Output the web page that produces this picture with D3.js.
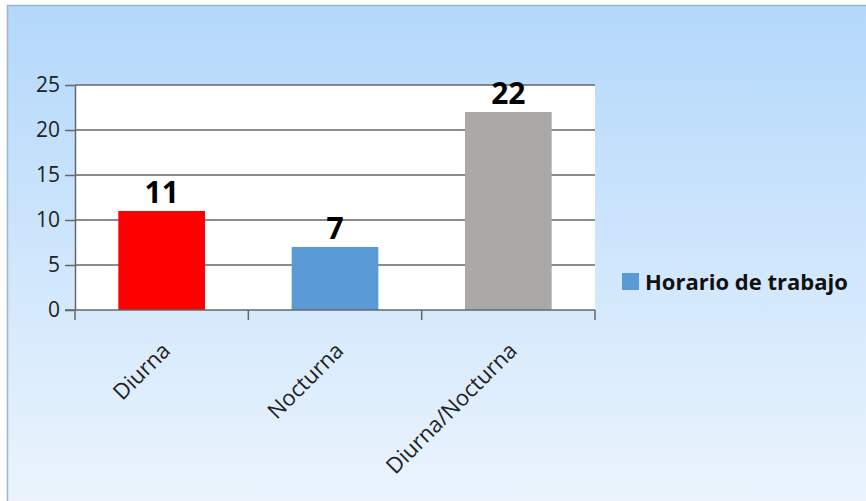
<!DOCTYPE html>
<html>
<head>
<meta charset="utf-8">
<script src="https://cdn.jsdelivr.net/npm/d3@7"></script>
<style>
  html, body { margin: 0; padding: 0; background: #fff; }
  svg { display: block; }
</style>
</head>
<body>
<div id="chart"></div>
<script>
const categories = ["Diurna", "Nocturna", "Diurna/Nocturna"];
const values = [11, 7, 22];
const barColors = ["#ff0000", "#5b9bd5", "#aaa9a8"];
const yTicks = [0, 5, 10, 15, 20, 25];
const legendLabel = "Horario de trabajo";
const legendColor = "#5b9bd5";

const W = 866, H = 501;
const plot = {left: 75, top: 85, right: 595, bottom: 310};

const svg = d3.select("#chart").append("svg")
    .attr("width", W)
    .attr("height", H);

// background gradient panel
const grad = svg.append("defs").append("linearGradient")
    .attr("id", "bg").attr("x1", 0).attr("y1", 0).attr("x2", 0).attr("y2", 1);
grad.append("stop").attr("offset", "0%").attr("stop-color", "#b3d8fb");
grad.append("stop").attr("offset", "100%").attr("stop-color", "#ebf4fd");

svg.append("rect")
    .attr("x", 7).attr("y", 5)
    .attr("width", W - 7).attr("height", H - 5)
    .attr("fill", "url(#bg)");
svg.append("path")
    .attr("d", `M7.5,${H} V5.5 H${W}`)
    .attr("fill", "none")
    .attr("stroke", "#9fb3c6")
    .attr("stroke-width", 1.5);

const x = d3.scaleBand()
    .domain(categories)
    .range([plot.left, plot.right])
    .paddingInner(0.5)
    .paddingOuter(0.25);

const y = d3.scaleLinear()
    .domain([0, 25])
    .range([plot.bottom, plot.top]);

// white plot area
svg.append("rect")
    .attr("x", plot.left).attr("y", plot.top)
    .attr("width", plot.right - plot.left)
    .attr("height", plot.bottom - plot.top)
    .attr("fill", "#fff");

// gridlines + y axis
const yAxis = svg.append("g")
    .attr("transform", `translate(${plot.left},0)`)
    .call(d3.axisLeft(y).tickValues(yTicks).tickSize(10).tickPadding(5).tickSizeOuter(0));
yAxis.select(".domain").attr("stroke", "#666").attr("stroke-width", 1.5);
yAxis.selectAll(".tick line").attr("stroke", "#666").attr("stroke-width", 1.5);
yAxis.selectAll(".tick text")
    .attr("font-family", "'Open Sans', sans-serif")
    .attr("font-size", 21)
    .attr("fill", "#222");

svg.append("g")
    .selectAll("line")
    .data(yTicks.filter(d => d > 0))
    .join("line")
    .attr("x1", plot.left).attr("x2", plot.right)
    .attr("y1", d => y(d)).attr("y2", d => y(d))
    .attr("stroke", "#666").attr("stroke-width", 1.5);

// bars
svg.append("g")
    .selectAll("rect")
    .data(values)
    .join("rect")
    .attr("x", (d, i) => x(categories[i]))
    .attr("y", d => y(d))
    .attr("width", x.bandwidth())
    .attr("height", d => y(0) - y(d))
    .attr("fill", (d, i) => barColors[i]);

// data labels
svg.append("g")
    .selectAll("text")
    .data(values)
    .join("text")
    .attr("x", (d, i) => x(categories[i]) + x.bandwidth() / 2)
    .attr("y", d => y(d) - 8)
    .attr("text-anchor", "middle")
    .attr("font-family", "'Open Sans', sans-serif")
    .attr("font-weight", "bold")
    .attr("font-size", 30)
    .attr("fill", "#000")
    .text(d => d);

// x axis with boundary ticks
const step = (plot.right - plot.left) / categories.length;
const xAxisG = svg.append("g");
xAxisG.append("line")
    .attr("x1", plot.left - 10).attr("x2", plot.right)
    .attr("y1", plot.bottom).attr("y2", plot.bottom)
    .attr("stroke", "#666").attr("stroke-width", 1.5);
xAxisG.selectAll("line.bt")
    .data(d3.range(categories.length + 1))
    .join("line")
    .attr("class", "bt")
    .attr("x1", i => plot.left + i * step).attr("x2", i => plot.left + i * step)
    .attr("y1", plot.bottom).attr("y2", plot.bottom + 10)
    .attr("stroke", "#666").attr("stroke-width", 1.5);
xAxisG.selectAll("text")
    .data(categories)
    .join("text")
    .attr("transform", d => `translate(${x(d) + x.bandwidth() / 2 + 10},${plot.bottom + 42}) rotate(-45)`)
    .attr("text-anchor", "end")
    .attr("font-family", "'Open Sans', sans-serif")
    .attr("font-size", 22)
    .attr("fill", "#222")
    .text(d => d);

// legend
const legend = svg.append("g").attr("transform", "translate(622,273)");
legend.append("rect")
    .attr("width", 17).attr("height", 17)
    .attr("fill", legendColor);
legend.append("text")
    .attr("x", 23).attr("y", 17)
    .attr("font-family", "'Open Sans', sans-serif")
    .attr("font-weight", "bold")
    .attr("font-size", 22)
    .attr("fill", "#111")
    .text(legendLabel);
</script>
</body>
</html>
